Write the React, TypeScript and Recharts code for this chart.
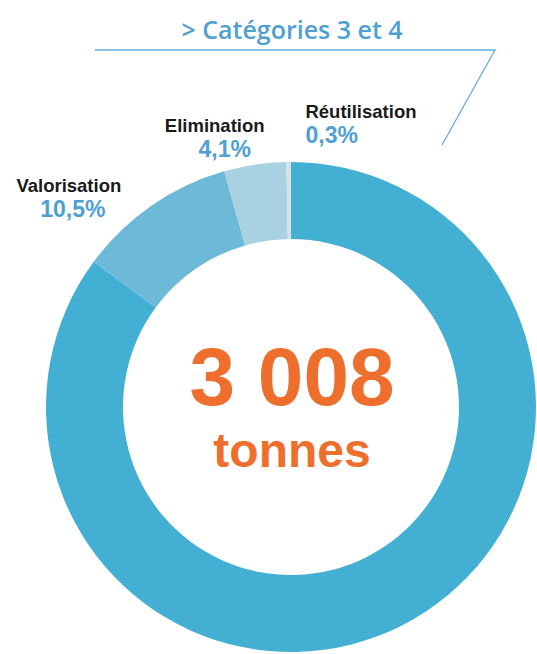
import { Cell, Pie, PieChart } from "recharts";

const CATEGORIES = ["Recyclage", "Valorisation", "Elimination", "Réutilisation"];
const SHARES = [85.1, 10.5, 4.1, 0.3];
const COLORS = ["#43afd3", "#6cbad8", "#a8d2e2", "#d6e2e6"];
const TITLE = "> Catégories 3 et 4";
const TOTAL_TONNES = 3008;
const UNIT = "tonnes";
const LABELLED = ["Valorisation", "Elimination", "Réutilisation"];

const W = 537;
const H = 654;
const CX = 291;
const CY = 407;
const OUTER = 245;
const INNER = 168;

// offsets of each label from the point just outside its slice
const LABEL_LAYOUT: Record<string, { dx: number; dy: number; anchor: "start" | "middle"; pctDx: number }> = {
	Réutilisation: { dx: 17, dy: -22, anchor: "start", pctDx: 0 },
	Elimination: { dx: -37, dy: -11, anchor: "middle", pctDx: 10 },
	Valorisation: { dx: -70, dy: 4, anchor: "middle", pctDx: 4 },
};

const data = CATEGORIES.map((name, i) => ({ name, value: SHARES[i] }));

const RADIAN = Math.PI / 180;

function fmtPct(v: number) {
	return `${v.toFixed(1).replace(".", ",")}%`;
}

function fmtTotal(v: number) {
	return v.toLocaleString("fr-FR").replace(/\s/g, " ");
}

function renderLabel(props: any) {
	const { cx, cy, midAngle, outerRadius, name, value } = props;
	if (!LABELLED.includes(name)) return null;
	const layout = LABEL_LAYOUT[name];
	const r = outerRadius + 22;
	const x = cx + r * Math.cos(-midAngle * RADIAN) + layout.dx;
	const y = cy + r * Math.sin(-midAngle * RADIAN) + layout.dy;
	return (
		<g>
			<text
				x={x}
				y={y}
				textAnchor={layout.anchor}
				fill="#1a1a1a"
				fontFamily="Liberation Sans, Arial, sans-serif"
				fontWeight="bold"
				fontSize={18.5}
			>
				{name}
			</text>
			<text
				x={x + layout.pctDx}
				y={y + 25}
				textAnchor={layout.anchor}
				fill="#4f9fd3"
				fontFamily="Liberation Sans, Arial, sans-serif"
				fontWeight="bold"
				fontSize={23}
			>
				{fmtPct(value)}
			</text>
		</g>
	);
}

export default function App() {
	return (
		<div style={{ position: "absolute", left: 0, top: 0, width: W, height: H, background: "#fff" }}>
			<PieChart width={W} height={H} margin={{ top: 0, right: 0, bottom: 0, left: 0 }}>
				<Pie
					data={data}
					dataKey="value"
					nameKey="name"
					cx={CX}
					cy={CY}
					innerRadius={INNER}
					outerRadius={OUTER}
					startAngle={90}
					endAngle={-270}
					stroke="none"
					label={renderLabel}
					labelLine={false}
					isAnimationActive={false}
				>
					{data.map((d, i) => (
						<Cell key={d.name} fill={COLORS[i]} />
					))}
				</Pie>
			</PieChart>
			<svg
				width={W}
				height={H}
				style={{ position: "absolute", left: 0, top: 0, pointerEvents: "none" }}
			>
				<text
					x={292}
					y={39}
					textAnchor="middle"
					fill="#4f9fd3"
					fontFamily="Open Sans, sans-serif"
					fontWeight={600}
					fontSize={25}
				>
					{TITLE}
				</text>
				<polyline
					points="95,50 495,50 442,145"
					fill="none"
					stroke="#5fb0db"
					strokeWidth={1.3}
				/>
				<text
					x={292}
					y={405}
					textAnchor="middle"
					fill="#ee6f2d"
					fontFamily="Liberation Sans, Arial, sans-serif"
					fontWeight="bold"
					fontSize={82}
				>
					{fmtTotal(TOTAL_TONNES)}
				</text>
				<text
					x={292}
					y={467}
					textAnchor="middle"
					fill="#ee6f2d"
					fontFamily="Liberation Sans, Arial, sans-serif"
					fontWeight="bold"
					fontSize={48}
				>
					{UNIT}
				</text>
			</svg>
		</div>
	);
}
